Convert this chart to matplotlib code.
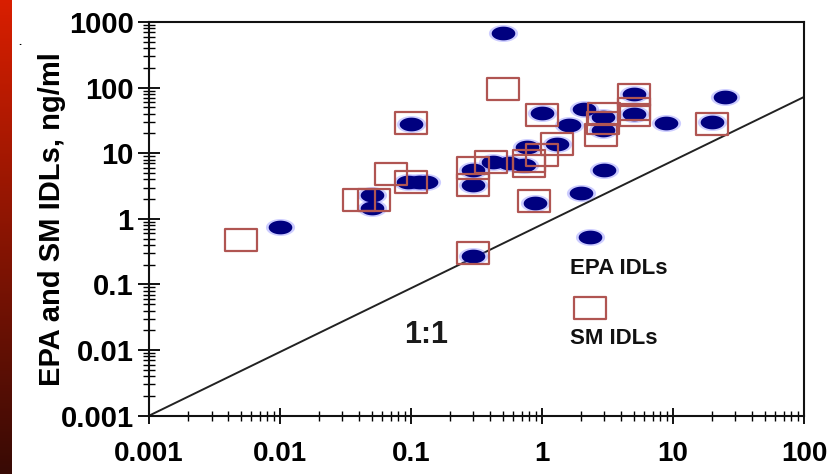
import numpy as np
import matplotlib
matplotlib.use("Agg")
import matplotlib.pyplot as plt
from matplotlib.path import Path
from matplotlib.ticker import LogLocator, NullFormatter, FixedLocator

plt.rcParams['font.family'] = ['Liberation Sans', 'DejaVu Sans']
plt.rcParams['font.weight'] = 'bold'

# EPA IDLs (blue ellipses)
epa_x = [0.01, 0.05, 0.05, 0.095, 0.115, 0.13, 0.1, 0.3, 0.3, 0.42, 0.56,
         0.3, 0.5, 1.0, 1.6, 2.1, 1.3, 0.77, 0.73, 0.88, 2.9, 2.9, 3.0,
         2.0, 5.0, 5.0, 8.8, 25, 20]
epa_y = [0.75, 2.3, 1.45, 3.7, 3.7, 3.7, 28, 5.5, 3.3, 7.4, 7.0,
         0.27, 680, 41, 27, 48, 14, 12.6, 6.6, 1.75, 36, 22.6, 5.5,
         2.45, 80, 40, 29, 73, 30]

# SM IDLs (open squares)
sm_x = [0.005, 0.04, 0.052, 0.07, 0.1, 0.1, 0.3, 0.3, 0.3, 0.41, 0.5,
        1.0, 1.3, 1.0, 0.8, 0.8, 0.87, 3.0, 2.9, 2.8, 5.0, 5.0, 5.0, 20]
sm_y = [0.48, 1.95, 1.95, 4.8, 3.7, 29, 5.9, 3.3, 0.3, 7.3, 95,
        38, 14, 9.4, 7.5, 6.5, 1.9, 40, 29, 19, 77, 47, 38, 28]

# 1:1 reference line ends
line_x = [0.001, 100]
line_y = [0.001, 72]

x_ticks = [0.001, 0.01, 0.1, 1, 10, 100]
x_labels = ['0.001', '0.01', '0.1', '1', '10', '100']
y_ticks = [0.001, 0.01, 0.1, 1, 10, 100, 1000]
y_labels = ['0.001', '0.01', '0.1', '1', '10', '100', '1000']

NAVY = '#00007f'
BOX = '#b05552'

t = np.linspace(0, 2 * np.pi, 80)
ellipse = Path(np.c_[np.cos(t), 0.58 * np.sin(t)])
rect = Path([(-1, -0.69), (1, -0.69), (1, 0.69), (-1, 0.69), (-1, -0.69)],
            [Path.MOVETO, Path.LINETO, Path.LINETO, Path.LINETO, Path.CLOSEPOLY])

fig = plt.figure(figsize=(8.32, 4.74), dpi=100)

# red gradient bar on the left edge
bar = fig.add_axes([0, 0, 0.0135, 1])
grad = np.linspace(0, 1, 256)[:, None]
top = np.array([0.85, 0.12, 0.0])
bot = np.array([0.22, 0.04, 0.02])
img = top[None, None, :] * (1 - grad[:, :, None]) + bot[None, None, :] * grad[:, :, None]
bar.imshow(img, aspect='auto', extent=[0, 1, 0, 1])
bar.axis('off')
fig.text(0.022, 0.905, '.', fontsize=8, color='black')

ax = fig.add_axes([0.1791, 0.1230, 0.7872, 0.8306])
ax.set_xscale('log')
ax.set_yscale('log')
ax.set_xlim(0.001, 100)
ax.set_ylim(0.001, 1000)

ax.plot(line_x, line_y, color='#222222', lw=1.4, zorder=2)

ax.plot(epa_x, epa_y, linestyle='none', marker=ellipse, markersize=21,
        color='#7070ff', alpha=0.35, markeredgewidth=0, zorder=3)
ax.plot(epa_x, epa_y, linestyle='none', marker=ellipse, markersize=17,
        color=NAVY, markeredgewidth=0, zorder=4)
ax.plot(sm_x, sm_y, linestyle='none', marker=rect, markersize=23,
        markerfacecolor='none', markeredgecolor=BOX, markeredgewidth=1.6,
        zorder=5)

# legend drawn as marker above label
ax.plot([0.673], [0.454], transform=ax.transAxes, linestyle='none',
        marker=ellipse, markersize=21, color='#7070ff', alpha=0.35,
        markeredgewidth=0, clip_on=False)
ax.plot([0.673], [0.454], transform=ax.transAxes, linestyle='none',
        marker=ellipse, markersize=17, color=NAVY, markeredgewidth=0,
        clip_on=False)
ax.text(0.643, 0.375, 'EPA IDLs', transform=ax.transAxes, fontsize=16,
        fontweight='bold', color='#111111', ha='left', va='center')
ax.plot([0.673], [0.274], transform=ax.transAxes, linestyle='none',
        marker=rect, markersize=23, markerfacecolor='none',
        markeredgecolor=BOX, markeredgewidth=1.6, clip_on=False)
ax.text(0.643, 0.197, 'SM IDLs', transform=ax.transAxes, fontsize=16,
        fontweight='bold', color='#111111', ha='left', va='center')

ax.text(0.13, 0.017, '1:1', fontsize=22, fontweight='bold',
        color='#1a1a1a', ha='center', va='center')

ax.xaxis.set_major_locator(FixedLocator(x_ticks))
ax.set_xticklabels(x_labels)
ax.yaxis.set_major_locator(FixedLocator(y_ticks))
ax.set_yticklabels(y_labels)
ax.xaxis.set_minor_locator(LogLocator(base=10, subs=np.arange(2, 10)))
ax.yaxis.set_minor_locator(LogLocator(base=10, subs=np.arange(2, 10)))
ax.xaxis.set_minor_formatter(NullFormatter())
ax.yaxis.set_minor_formatter(NullFormatter())

ax.tick_params(axis='x', which='major', direction='inout', length=11,
               width=1.3, pad=13, labelsize=20)
ax.tick_params(axis='x', which='minor', direction='inout', length=7,
               width=1.0)
ax.tick_params(axis='y', which='major', direction='inout', length=16,
               width=1.3, pad=3, labelsize=21)
ax.tick_params(axis='y', which='minor', direction='inout', length=8,
               width=1.0)
ax.tick_params(top=False, right=False, which='both')

for s in ax.spines.values():
    s.set_linewidth(1.5)
    s.set_color('#111111')

ax.set_ylabel('EPA and SM IDLs, ng/ml', fontsize=21, fontweight='bold',
              labelpad=-4)

fig.savefig('out.png', dpi=100)
